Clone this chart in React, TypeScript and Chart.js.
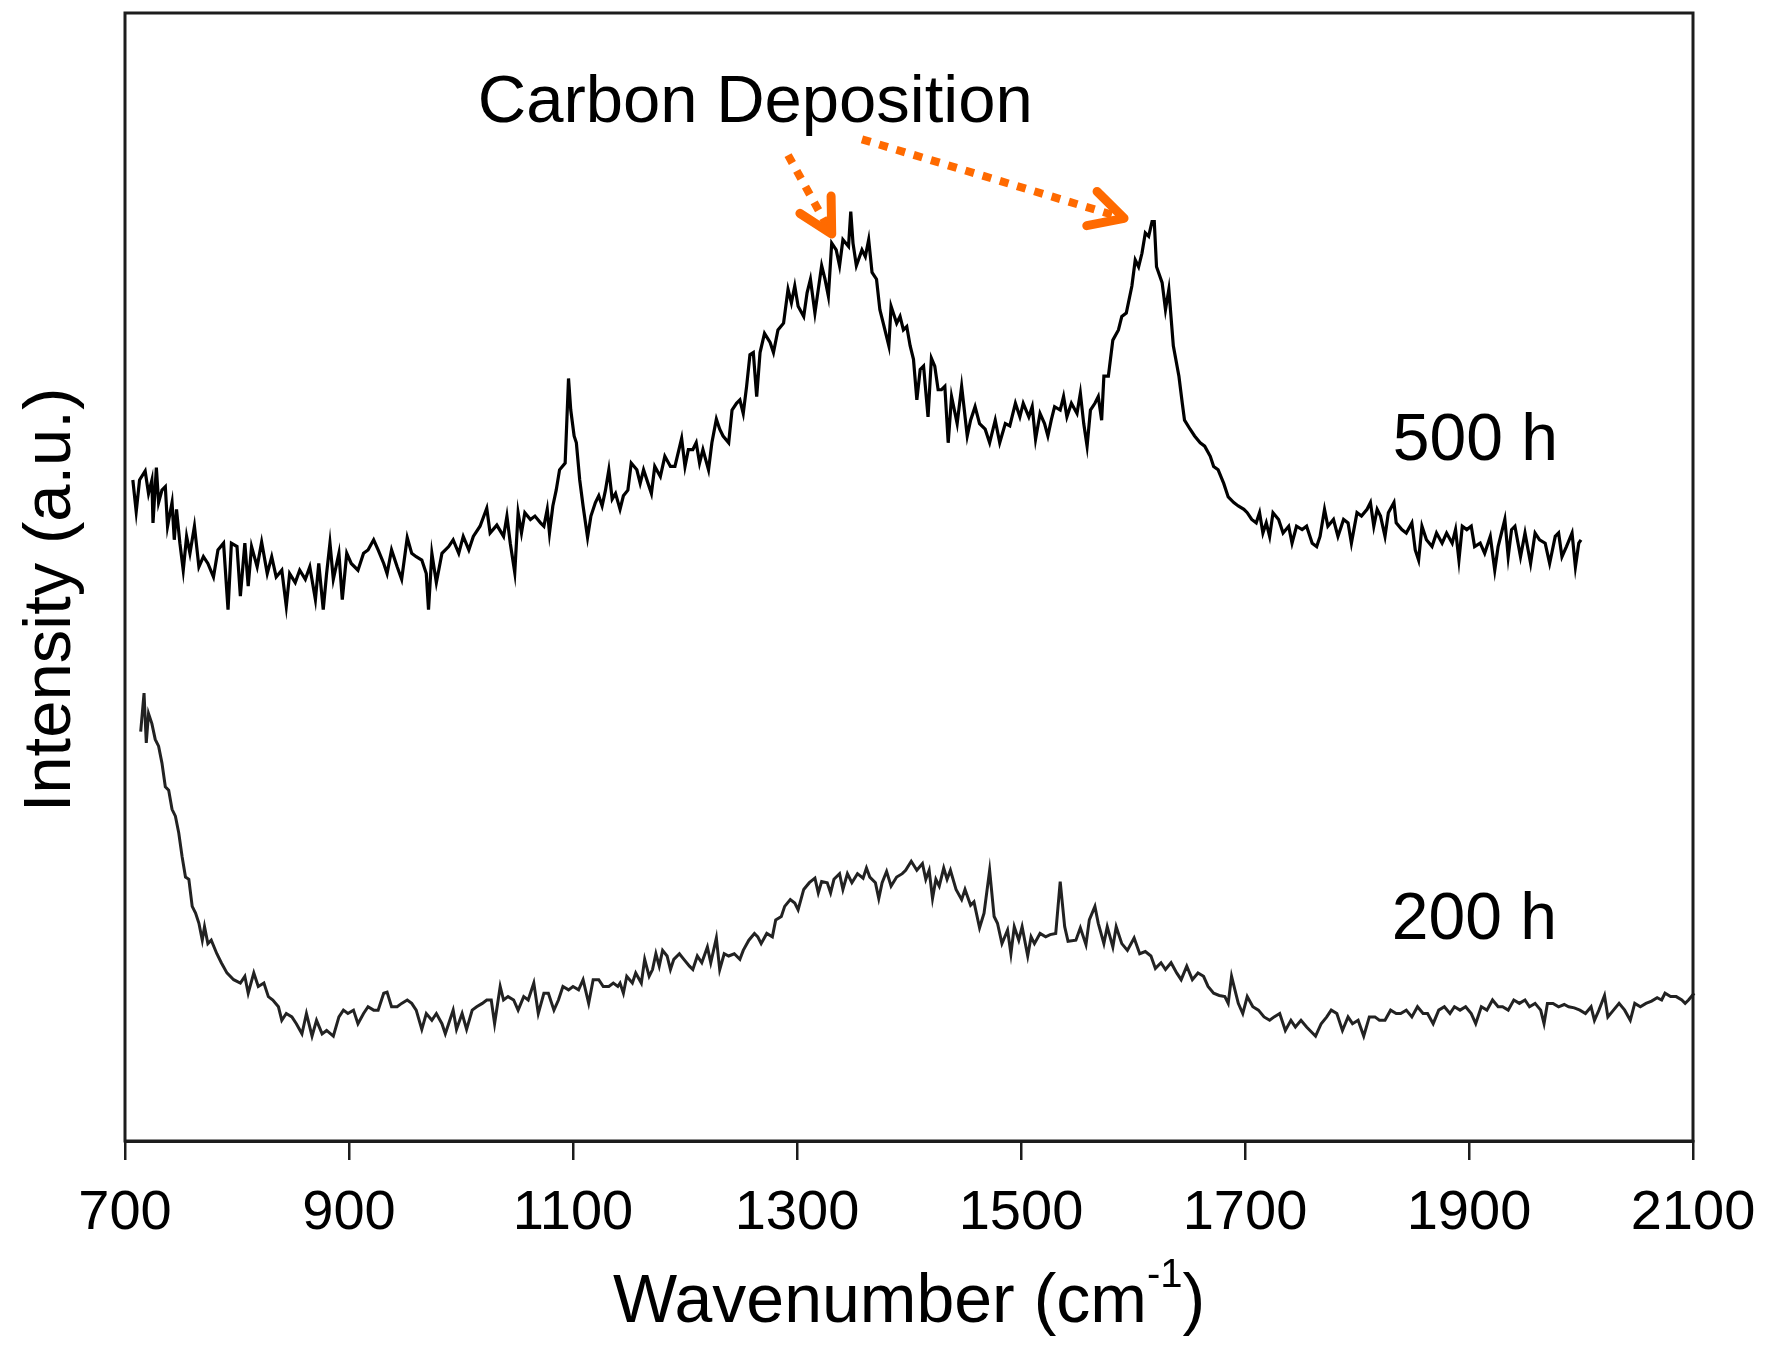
import { useEffect, useRef } from 'react';
import { Chart, registerables } from 'chart.js';

Chart.register(...registerables);

// 500 h spectrum (upper trace)
const wavenumber500 = [
  707, 710, 713, 718, 721, 724, 725, 728, 730, 733, 736, 738, 742, 744, 746, 749, 752, 755, 758, 762,
  766, 770, 774, 779, 783, 788, 792, 795, 800, 803, 807, 810, 813, 818, 822, 827, 831, 835, 840, 844,
  847, 852, 856, 861, 865, 870, 873, 877, 880, 883, 886, 891, 894, 898, 902, 908, 913, 917, 922, 926,
  931, 934, 938, 943, 947, 952, 956, 960, 965, 969, 971, 974, 978, 983, 989, 993, 998, 1002, 1007, 1011,
  1017, 1023, 1026, 1032, 1038, 1041, 1044, 1048, 1051, 1054, 1057, 1062, 1066, 1071, 1074, 1077, 1079, 1082, 1085, 1088,
  1093, 1096, 1098, 1101, 1103, 1106, 1109, 1113, 1116, 1120, 1123, 1126, 1129, 1132, 1135, 1138, 1142, 1145, 1149, 1152,
  1157, 1160, 1163, 1167, 1170, 1173, 1178, 1182, 1187, 1191, 1197, 1200, 1203, 1207, 1210, 1213, 1216, 1221, 1224, 1228,
  1231, 1234, 1239, 1242, 1246, 1249, 1252, 1255, 1258, 1261, 1264, 1267, 1271, 1276, 1279, 1283, 1288, 1292, 1295, 1298,
  1301, 1306, 1309, 1312, 1316, 1319, 1322, 1325, 1328, 1331, 1335, 1338, 1341, 1346, 1348, 1350, 1353, 1358, 1361, 1364,
  1367, 1371, 1374, 1377, 1382, 1384, 1389, 1392, 1395, 1398, 1401, 1404, 1407, 1410, 1413, 1417, 1420, 1423, 1426, 1429,
  1432, 1435, 1438, 1443, 1447, 1452, 1455, 1459, 1463, 1468, 1472, 1477, 1481, 1486, 1490, 1495, 1499, 1502, 1507, 1510,
  1513, 1517, 1521, 1524, 1527, 1530, 1535, 1538, 1541, 1545, 1550, 1553, 1556, 1559, 1562, 1566, 1569, 1572, 1574, 1578,
  1582, 1587, 1590, 1594, 1599, 1602, 1605, 1608, 1611, 1614, 1617, 1619, 1621, 1626, 1629, 1632, 1636, 1641, 1644, 1646,
  1651, 1655, 1660, 1664, 1669, 1672, 1676, 1681, 1685, 1690, 1694, 1699, 1702, 1706, 1710, 1713, 1716, 1719, 1722, 1725,
  1730, 1734, 1739, 1742, 1746, 1751, 1755, 1760, 1764, 1767, 1771, 1774, 1779, 1783, 1788, 1792, 1795, 1800, 1804, 1809,
  1812, 1815, 1818, 1821, 1825, 1828, 1833, 1835, 1840, 1844, 1849, 1852, 1855, 1858, 1862, 1867, 1871, 1876, 1880, 1885,
  1888, 1891, 1894, 1898, 1902, 1905, 1910, 1914, 1919, 1923, 1926, 1929, 1932, 1935, 1938, 1941, 1946, 1950, 1955, 1959,
  1963, 1968, 1972, 1977, 1980, 1983, 1987, 1992, 1995, 1998, 2000,
];
const intensity500 = [
  58.6, 55.8, 58.6, 59.4, 57.4, 58.6, 54.8, 59.7, 56.6, 57.7, 58.0, 54.5, 56.6, 53.3, 56.0, 53.0, 50.6, 53.6, 52.1, 54.5,
  50.9, 51.8, 51.2, 50.0, 52.4, 53.0, 47.1, 53.0, 52.7, 48.3, 53.0, 49.2, 52.7, 50.9, 53.1, 50.3, 51.8, 50.0, 50.6, 47.4,
  50.3, 49.5, 50.6, 49.8, 50.9, 48.0, 51.2, 47.1, 50.3, 53.0, 49.8, 52.1, 48.0, 52.1, 51.2, 50.6, 52.1, 52.4, 53.3, 52.4,
  51.2, 50.3, 52.4, 50.9, 49.8, 53.5, 52.1, 51.8, 51.5, 50.3, 47.1, 52.1, 49.5, 52.1, 52.7, 53.3, 52.1, 53.6, 52.4, 53.6,
  54.5, 56.1, 53.9, 54.6, 53.6, 55.4, 53.0, 50.4, 55.7, 53.9, 55.7, 55.1, 55.4, 54.8, 54.5, 56.0, 53.9, 56.3, 57.7, 59.5,
  60.1, 67.6, 64.8, 62.5, 61.9, 58.6, 56.3, 53.5, 55.4, 56.6, 57.2, 56.3, 57.7, 59.5, 56.9, 57.4, 56.0, 57.2, 57.7, 60.1,
  59.5, 58.3, 59.5, 58.3, 57.4, 59.8, 58.9, 60.7, 59.8, 59.8, 62.3, 59.8, 61.3, 61.3, 61.9, 60.1, 61.3, 59.5, 61.9, 64.0,
  63.1, 62.5, 61.9, 64.8, 65.4, 65.7, 64.5, 66.9, 69.7, 69.9, 66.0, 69.9, 71.6, 70.8, 69.9, 71.9, 72.5, 75.5, 74.3, 75.8,
  74.0, 73.1, 75.2, 76.4, 73.4, 75.5, 77.6, 76.4, 74.9, 79.6, 79.0, 77.6, 79.9, 79.3, 82.4, 79.6, 77.6, 79.0, 78.4, 79.9,
  77.0, 76.4, 73.7, 72.5, 70.5, 74.0, 72.5, 73.1, 71.9, 72.2, 70.5, 69.3, 65.7, 68.4, 68.7, 64.2, 69.4, 68.7, 66.6, 66.6,
  66.9, 61.9, 66.0, 63.6, 66.9, 62.5, 63.9, 65.1, 63.6, 63.1, 61.9, 63.9, 61.9, 63.6, 63.4, 65.4, 64.2, 65.4, 64.2, 65.1,
  62.2, 64.5, 63.6, 62.5, 63.9, 65.1, 64.8, 66.0, 64.2, 65.4, 64.5, 66.3, 63.6, 61.6, 64.8, 65.4, 66.0, 63.9, 67.8, 67.8,
  71.0, 71.9, 73.1, 73.4, 75.8, 78.1, 77.5, 78.7, 80.5, 80.2, 81.5, 81.5, 77.5, 76.1, 73.7, 75.5, 70.5, 67.8, 65.4, 63.9,
  63.1, 62.5, 61.9, 61.6, 60.7, 59.8, 59.5, 58.3, 57.1, 56.6, 56.3, 56.0, 55.7, 55.1, 54.8, 55.7, 53.9, 54.8, 53.6, 55.7,
  55.1, 53.9, 54.5, 53.0, 54.5, 54.2, 54.5, 53.0, 52.7, 53.6, 56.0, 54.5, 55.1, 53.6, 55.1, 54.8, 53.0, 55.7, 55.4, 56.0,
  56.6, 54.5, 56.0, 55.4, 53.6, 55.7, 56.6, 54.8, 54.2, 53.9, 54.8, 52.4, 51.5, 54.5, 53.3, 52.7, 53.9, 53.0, 53.9, 53.0,
  54.2, 51.5, 54.5, 54.2, 54.5, 52.7, 53.0, 52.1, 53.6, 50.6, 52.7, 53.9, 55.1, 51.8, 54.2, 54.5, 51.8, 53.9, 51.2, 53.9,
  53.3, 53.0, 51.2, 53.6, 53.9, 51.8, 52.7, 53.9, 50.9, 53.0, 53.3,
];

// 200 h spectrum (lower trace)
const wavenumber200 = [
  714, 717, 719, 721, 724, 727, 730, 733, 736, 739, 742, 745, 748, 751, 754, 757, 760, 763, 766, 769,
  771, 774, 777, 782, 786, 791, 797, 803, 807, 810, 815, 819, 824, 828, 832, 837, 840, 844, 849, 853,
  858, 862, 867, 871, 876, 880, 886, 891, 895, 899, 904, 908, 913, 917, 922, 926, 931, 934, 938, 943,
  947, 952, 956, 960, 965, 969, 974, 978, 983, 986, 990, 993, 996, 1001, 1005, 1010, 1014, 1019, 1023, 1027,
  1030, 1035, 1038, 1042, 1047, 1051, 1056, 1060, 1065, 1069, 1074, 1078, 1083, 1087, 1091, 1096, 1100, 1105, 1109, 1114,
  1118, 1123, 1127, 1132, 1136, 1140, 1142, 1145, 1148, 1153, 1156, 1161, 1164, 1168, 1171, 1174, 1177, 1180, 1184, 1187,
  1190, 1195, 1199, 1204, 1207, 1211, 1215, 1220, 1223, 1228, 1231, 1235, 1239, 1244, 1249, 1252, 1257, 1262, 1265, 1268,
  1273, 1278, 1281, 1286, 1289, 1294, 1298, 1301, 1306, 1311, 1316, 1319, 1322, 1327, 1330, 1333, 1338, 1341, 1345, 1349,
  1354, 1359, 1362, 1365, 1370, 1373, 1376, 1380, 1384, 1389, 1394, 1397, 1402, 1407, 1412, 1415, 1418, 1421, 1424, 1427,
  1431, 1434, 1437, 1442, 1447, 1450, 1455, 1458, 1463, 1467, 1472, 1476, 1479, 1483, 1488, 1491, 1494, 1498, 1501, 1506,
  1509, 1512, 1517, 1522, 1526, 1531, 1535, 1539, 1542, 1549, 1553, 1558, 1561, 1566, 1569, 1574, 1577, 1582, 1585, 1590,
  1595, 1601, 1606, 1611, 1616, 1620, 1625, 1629, 1634, 1639, 1643, 1648, 1653, 1658, 1663, 1667, 1672, 1677, 1682, 1685,
  1688, 1691, 1694, 1698, 1702, 1707, 1712, 1717, 1722, 1726, 1731, 1736, 1741, 1745, 1750, 1755, 1760, 1763, 1768, 1773,
  1777, 1782, 1787, 1792, 1796, 1801, 1806, 1811, 1816, 1820, 1825, 1830, 1835, 1839, 1844, 1849, 1854, 1859, 1863, 1868,
  1873, 1878, 1883, 1887, 1892, 1897, 1902, 1906, 1911, 1916, 1921, 1926, 1930, 1935, 1940, 1945, 1950, 1954, 1959, 1964,
  1967, 1970, 1975, 1980, 1985, 1989, 1994, 1999, 2004, 2009, 2012, 2016, 2021, 2024, 2029, 2034, 2039, 2044, 2048, 2053,
  2058, 2063, 2068, 2072, 2075, 2080, 2085, 2090, 2093, 2096, 2101, 2104, 2109,
];
const intensity200 = [
  36.3, 39.7, 35.3, 37.9, 37.0, 35.6, 35.0, 33.5, 31.4, 31.1, 29.4, 28.8, 27.3, 25.2, 23.4, 23.2, 20.8, 20.2, 19.3, 17.8,
  19.0, 17.5, 17.8, 16.6, 15.8, 14.9, 14.3, 14.0, 14.6, 13.1, 14.9, 13.7, 14.0, 12.8, 12.5, 11.9, 10.7, 11.3, 11.0, 10.4,
  9.5, 11.3, 9.3, 10.7, 9.5, 9.8, 9.3, 11.0, 11.6, 11.3, 11.6, 10.4, 11.3, 11.9, 11.6, 11.6, 13.1, 13.2, 11.9, 11.9,
  12.2, 12.5, 12.2, 11.6, 9.9, 11.3, 10.7, 11.3, 10.4, 9.5, 10.7, 11.6, 9.9, 11.3, 9.9, 11.6, 11.9, 12.2, 12.5, 12.5,
  10.4, 13.7, 12.5, 12.8, 12.5, 11.6, 12.8, 12.5, 14.0, 11.3, 13.1, 13.1, 11.6, 12.5, 13.7, 13.4, 13.7, 13.4, 14.3, 12.2,
  14.3, 14.3, 13.7, 13.7, 14.0, 13.7, 14.0, 13.1, 14.6, 14.0, 14.9, 14.0, 16.1, 14.6, 15.2, 16.6, 15.5, 16.9, 16.4, 15.2,
  16.1, 16.6, 16.1, 15.5, 15.2, 16.4, 15.8, 17.2, 15.8, 18.0, 15.2, 16.6, 16.4, 16.6, 16.1, 16.9, 17.8, 18.4, 18.1, 17.5,
  18.4, 18.1, 19.6, 19.9, 20.8, 21.4, 21.1, 20.5, 22.3, 22.9, 23.3, 22.0, 23.0, 22.9, 22.0, 23.2, 23.7, 22.3, 23.7, 22.9,
  23.7, 23.3, 24.2, 23.4, 22.9, 21.5, 22.9, 23.9, 22.6, 23.4, 23.7, 24.0, 24.8, 24.0, 24.6, 23.2, 24.0, 21.5, 23.2, 22.6,
  24.2, 23.2, 24.0, 22.3, 21.4, 22.3, 20.9, 21.2, 18.9, 20.2, 24.0, 19.9, 19.3, 17.5, 18.7, 16.6, 19.0, 17.8, 19.0, 16.4,
  18.1, 17.5, 18.4, 18.1, 18.3, 18.4, 23.0, 19.0, 17.7, 17.8, 18.9, 17.4, 19.6, 20.8, 19.3, 17.5, 19.0, 17.2, 19.0, 17.5,
  16.9, 18.0, 16.6, 16.8, 16.4, 15.3, 15.8, 15.2, 15.8, 14.9, 14.3, 15.5, 14.3, 14.9, 14.6, 13.7, 13.1, 12.9, 12.8, 12.2,
  14.6, 13.4, 12.2, 11.3, 12.8, 11.9, 11.6, 11.0, 10.7, 11.0, 11.3, 9.8, 10.7, 10.1, 10.7, 10.1, 9.6, 9.3, 10.4, 11.0,
  11.6, 11.3, 9.8, 11.0, 10.4, 10.7, 9.3, 11.0, 11.0, 10.7, 10.7, 11.6, 11.3, 11.3, 11.6, 11.0, 11.9, 11.3, 11.3, 10.4,
  11.6, 11.9, 11.3, 11.9, 11.6, 11.9, 11.3, 10.4, 11.9, 11.6, 12.5, 11.9, 11.9, 11.6, 12.5, 12.2, 12.5, 11.9, 12.2, 11.6,
  10.4, 12.2, 12.2, 11.9, 12.1, 11.9, 11.8, 11.6, 11.3, 11.9, 10.7, 11.6, 12.9, 11.0, 11.6, 12.2, 11.6, 10.7, 12.2, 11.9,
  12.2, 12.4, 12.7, 12.5, 13.1, 12.8, 12.8, 12.5, 12.2, 12.5, 13.1, 12.9, 12.8,
];

const xTickValues = [700, 900, 1100, 1300, 1500, 1700, 1900, 2100];

const FONT = '"Liberation Sans", Arial, Helvetica, sans-serif';
const ORANGE = 'rgb(255, 106, 0)';
const AXIS_COLOR = '#1c1c1c';

// annotation anchors, in data units (wavenumber, intensity)
const labels = [
  { text: 'Carbon Deposition', x: 1015, y: 90.3, size: 67 },
  { text: '500 h', x: 1832, y: 60.4, size: 66 },
  { text: '200 h', x: 1831, y: 17.9, size: 66 },
];
const arrows = [
  { from: [1292, 87.4], to: [1331, 80.4] },
  { from: [1358, 88.8], to: [1592, 81.8] },
];

function drawArrow(ctx: CanvasRenderingContext2D, x0: number, y0: number, x1: number, y1: number) {
  ctx.save();
  ctx.strokeStyle = ORANGE;
  ctx.lineWidth = 8;
  ctx.setLineDash([9, 9]);
  ctx.beginPath();
  ctx.moveTo(x0, y0);
  ctx.lineTo(x1, y1);
  ctx.stroke();

  ctx.setLineDash([]);
  const ang = Math.atan2(y1 - y0, x1 - x0);
  const len = 38;
  const spread = (28 * Math.PI) / 180;
  ctx.lineWidth = 9;
  ctx.lineCap = 'round';
  ctx.lineJoin = 'round';
  ctx.beginPath();
  ctx.moveTo(x1 - len * Math.cos(ang - spread), y1 - len * Math.sin(ang - spread));
  ctx.lineTo(x1, y1);
  ctx.lineTo(x1 - len * Math.cos(ang + spread), y1 - len * Math.sin(ang + spread));
  ctx.stroke();
  ctx.restore();
}

const ramanDecorations = {
  id: 'ramanDecorations',
  afterDraw(chart: any) {
    const { ctx, chartArea } = chart;
    const xs = chart.scales.x;
    const ys = chart.scales.y;
    ctx.save();

    // frame round the plot
    ctx.strokeStyle = AXIS_COLOR;
    ctx.lineWidth = 3;
    ctx.strokeRect(chartArea.left, chartArea.top, chartArea.right - chartArea.left, chartArea.bottom - chartArea.top);

    // text labels
    ctx.fillStyle = '#000';
    ctx.textAlign = 'left';
    ctx.textBaseline = 'alphabetic';
    labels.forEach((l) => {
      ctx.font = `${l.size}px ${FONT}`;
      ctx.fillText(l.text, xs.getPixelForValue(l.x), ys.getPixelForValue(l.y));
    });

    arrows.forEach((a) => {
      drawArrow(
        ctx,
        xs.getPixelForValue(a.from[0]),
        ys.getPixelForValue(a.from[1]),
        xs.getPixelForValue(a.to[0]),
        ys.getPixelForValue(a.to[1])
      );
    });

    // x axis title with superscript
    const big = `68px ${FONT}`;
    const small = `40px ${FONT}`;
    const partA = 'Wavenumber (cm';
    const sup = '-1';
    const partB = ')';
    ctx.font = big;
    const wA = ctx.measureText(partA).width;
    const wB = ctx.measureText(partB).width;
    ctx.font = small;
    const wS = ctx.measureText(sup).width;
    const total = wA + wS + wB;
    const cx = (chartArea.left + chartArea.right) / 2;
    let tx = cx - total / 2;
    const baseY = chartArea.bottom + 181;
    ctx.font = big;
    ctx.fillText(partA, tx, baseY);
    tx += wA;
    ctx.font = small;
    ctx.fillText(sup, tx, baseY - 35);
    tx += wS;
    ctx.font = big;
    ctx.fillText(partB, tx, baseY);

    // y axis title
    ctx.save();
    ctx.translate(70, chartArea.top + 587);
    ctx.rotate(-Math.PI / 2);
    ctx.textAlign = 'center';
    ctx.font = `67px ${FONT}`;
    ctx.fillText('Intensity (a.u.)', 0, 0);
    ctx.restore();

    ctx.restore();
  },
};

export default function App() {
  const canvasRef = useRef<HTMLCanvasElement>(null);

  useEffect(() => {
    if (!canvasRef.current) return;

    const chart = new Chart(canvasRef.current, {
      type: 'line',
      data: {
        datasets: [
          {
            label: '500 h',
            data: wavenumber500.map((x, i) => ({ x, y: intensity500[i] })),
            borderColor: '#000',
            borderWidth: 3.2,
            pointRadius: 0,
            tension: 0,
            fill: false,
          },
          {
            label: '200 h',
            data: wavenumber200.map((x, i) => ({ x, y: intensity200[i] })),
            borderColor: '#222',
            borderWidth: 3,
            pointRadius: 0,
            tension: 0,
            fill: false,
            clip: false,
          },
        ],
      },
      options: {
        animation: false,
        responsive: true,
        maintainAspectRatio: false,
        layout: { padding: { left: 125, right: 75, top: 13, bottom: 0 } },
        plugins: {
          legend: { display: false },
          tooltip: { enabled: false },
        },
        scales: {
          x: {
            type: 'linear',
            min: 700,
            max: 2100,
            afterBuildTicks: (scale: any) => {
              scale.ticks = xTickValues.map((value) => ({ value }));
            },
            afterFit: (scale: any) => {
              scale.height = 211;
              scale.paddingLeft = 0;
              scale.paddingRight = 0;
            },
            grid: {
              drawOnChartArea: false,
              drawTicks: true,
              tickLength: 19,
              color: AXIS_COLOR,
              lineWidth: 2.5,
            },
            border: { display: true, color: AXIS_COLOR, width: 3 },
            ticks: {
              padding: 20,
              color: '#000',
              font: { family: FONT, size: 56 },
              maxRotation: 0,
              autoSkip: false,
              callback: (value: any) => String(value),
            },
          },
          y: {
            display: false,
            min: 0,
            max: 100,
          },
        },
      },
      plugins: [ramanDecorations],
    });

    return () => chart.destroy();
  }, []);

  return (
    <div style={{ position: 'absolute', left: 0, top: 0, width: 1768, height: 1352, background: '#fff' }}>
      <canvas ref={canvasRef} />
    </div>
  );
}
